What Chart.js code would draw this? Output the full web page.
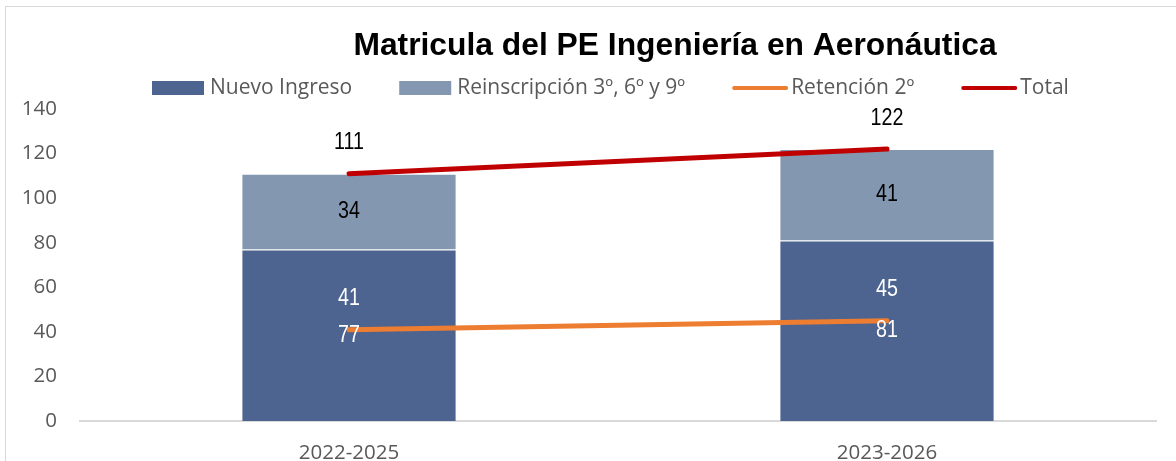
<!DOCTYPE html>
<html>
<head>
<meta charset="utf-8">
<script src="https://cdn.jsdelivr.net/npm/chart.js@4"></script>
<style>
  html, body { margin: 0; padding: 0; background: #fff; overflow: hidden; }
  #wrap { position: relative; width: 1176px; height: 461px; }
  #frame { position: absolute; left: 5px; top: 6px; width: 1200px; height: 500px; border: 1px solid #d9d9d9; box-sizing: border-box; }
  canvas { position: absolute; left: 0; top: 0; }
</style>
</head>
<body>
<div id="wrap">
  <div id="frame"></div>
  <canvas id="chart" width="1176" height="461"></canvas>
</div>
<script>
var categories = ['2022-2025', '2023-2026'];
var nuevoIngreso = [77, 81];
var reinscripcion = [34, 41];
var retencion = [41, 45];
var total = [111, 122];
var yTicks = [0, 20, 40, 60, 80, 100, 120, 140];

var titleText = 'Matricula del PE Ingeniería en Aeronáutica';
var axisFont = '"Open Sans", Calibri, sans-serif';

// narrow digits like Arial Narrow: regular face squeezed horizontally
function narrowText(ctx, text, x, y) {
  ctx.save();
  ctx.translate(x, y);
  ctx.scale(0.82, 1);
  ctx.fillText(text, 0, 0);
  ctx.restore();
}

// title, legend and value labels
var decorations = {
  id: 'decorations',
  afterDatasetsDraw: function (chart) {
    var ctx = chart.ctx;
    ctx.save();
    ctx.textAlign = 'center';
    ctx.textBaseline = 'middle';
    ctx.font = '24px "Liberation Sans", Arial, sans-serif';
    chart.data.datasets.forEach(function (ds, i) {
      var meta = chart.getDatasetMeta(i);
      meta.data.forEach(function (el, j) {
        var y = ds.type === 'line' ? el.y - 31 : (el.y + el.base) / 2;
        ctx.fillStyle = ds.labelColor;
        narrowText(ctx, String(ds.data[j]), el.x, y);
      });
    });
    ctx.restore();
  },
  afterDraw: function (chart) {
    var ctx = chart.ctx;
    ctx.save();
    ctx.fillStyle = '#000';
    ctx.font = 'bold 31.8px "Liberation Sans", Arial, sans-serif';
    ctx.textAlign = 'center';
    ctx.textBaseline = 'middle';
    ctx.fillText(titleText, 675, 46);

    // legend
    ctx.font = '21px ' + axisFont;
    ctx.textAlign = 'left';
    var x = 152, y = 88;
    chart.data.datasets.slice().sort(function (a, b) { return a.legendOrder - b.legendOrder; }).forEach(function (ds) {
      if (ds.type === 'line') {
        ctx.strokeStyle = ds.borderColor;
        ctx.lineWidth = 4;
        ctx.lineCap = 'round';
        ctx.beginPath();
        ctx.moveTo(x + 2, y);
        ctx.lineTo(x + 54, y);
        ctx.stroke();
        x += 59;
      } else {
        ctx.fillStyle = ds.backgroundColor;
        ctx.fillRect(x, y - 7, 52, 14);
        x += 58;
      }
      ctx.fillStyle = '#595959';
      ctx.fillText(ds.label, x, y);
      x += ctx.measureText(ds.label).width + 47;
    });
    ctx.restore();
  }
};

new Chart(document.getElementById('chart'), {
  data: {
    labels: categories,
    datasets: [
      {
        type: 'line', label: 'Total', data: total, legendOrder: 3, stack: 'tot',
        borderColor: '#C00000', borderWidth: 5, borderCapStyle: 'round',
        pointRadius: 0, labelColor: '#000', order: 0
      },
      {
        type: 'line', label: 'Retención 2º', data: retencion, legendOrder: 2, stack: 'ret',
        borderColor: '#ED7D31', borderWidth: 5, borderCapStyle: 'round',
        pointRadius: 0, labelColor: '#fff', order: 1
      },
      {
        type: 'bar', label: 'Nuevo Ingreso', data: nuevoIngreso, legendOrder: 0, stack: 'bars',
        backgroundColor: '#4D6390', borderColor: 'rgba(255,255,255,0.3)', borderWidth: 1,
        labelColor: '#fff', order: 2
      },
      {
        type: 'bar', label: 'Reinscripción 3º, 6º y 9º', data: reinscripcion, legendOrder: 1, stack: 'bars',
        backgroundColor: '#8497B0', borderColor: 'rgba(255,255,255,0.3)', borderWidth: 1,
        labelColor: '#000', order: 3
      }
    ]
  },
  options: {
    responsive: false,
    animation: false,
    layout: { padding: { top: 109, right: 20, left: 0, bottom: 0 } },
    datasets: { bar: { categoryPercentage: 1, barPercentage: 0.4 } },
    plugins: { legend: { display: false }, title: { display: false }, tooltip: { enabled: false } },
    scales: {
      x: {
        stacked: true,
        grid: { display: false, drawTicks: false },
        border: { display: true, color: '#d9d9d9', width: 2 },
        ticks: { color: '#595959', font: { family: axisFont, size: 20.5 }, padding: 20 },
        afterFit: function (s) { s.height = 40; }
      },
      y: {
        stacked: true,
        min: 0, max: 140,
        grid: { display: false, drawTicks: false },
        border: { display: false },
        afterBuildTicks: function (s) { s.ticks = yTicks.map(function (v) { return { value: v }; }); },
        ticks: { color: '#595959', font: { family: axisFont, size: 20.5 }, padding: 23 },
        afterFit: function (s) { s.width = 80; }
      }
    }
  },
  plugins: [decorations]
});
</script>
</body>
</html>
